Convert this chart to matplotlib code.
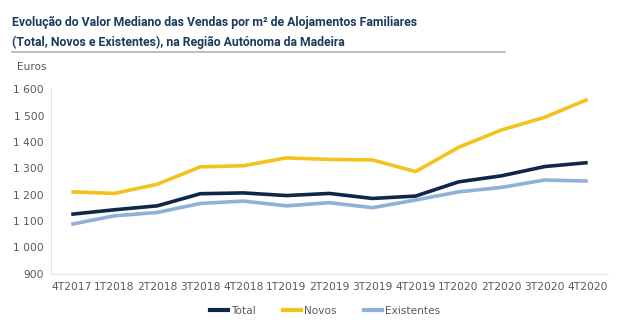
import matplotlib
matplotlib.use("Agg")
import matplotlib.pyplot as plt
from matplotlib.lines import Line2D

# -------- data
quarters = ['4T2017', '1T2018', '2T2018', '3T2018', '4T2018', '1T2019',
            '2T2019', '3T2019', '4T2019', '1T2020', '2T2020', '3T2020', '4T2020']
total = [1126, 1143, 1158, 1204, 1207, 1197, 1205, 1186, 1195, 1249, 1272, 1307, 1322]
novos = [1211, 1205, 1240, 1306, 1310, 1340, 1334, 1332, 1288, 1380, 1446, 1494, 1562]
existentes = [1088, 1120, 1133, 1167, 1176, 1158, 1170, 1151, 1180, 1211, 1228, 1256, 1252]
yticks = [900, 1000, 1100, 1200, 1300, 1400, 1500, 1600]

c_total = '#0f2748'
c_novos = '#f2c31c'
c_exist = '#8fb1d9'
c_text = '#595959'
c_title = '#1c3a5e'

# -------- make the figure
fig = plt.figure(figsize=(6.3, 3.26), dpi=100)
fig.patch.set_facecolor('white')

ax = fig.add_axes([0.081, 0.160, 0.884, 0.566])
x = range(len(quarters))
ax.plot(x, total, color=c_total, lw=2.6, solid_capstyle='butt')
ax.plot(x, novos, color=c_novos, lw=2.6, solid_capstyle='butt')
ax.plot(x, existentes, color=c_exist, lw=2.6, solid_capstyle='butt')

ax.set_xlim(-0.47, len(quarters) - 0.53)
ax.set_ylim(900, 1600)
ax.set_yticks(yticks)
ax.set_yticklabels([f'{v:,}'.replace(',', ' ') for v in yticks])
ax.set_xticks(list(x))
ax.set_xticklabels(quarters)
ax.tick_params(axis='both', length=0, labelsize=7.7, labelcolor=c_text, pad=6)
ax.tick_params(axis='y', pad=5)
for s in ['top', 'right']:
    ax.spines[s].set_visible(False)
for s in ['left', 'bottom']:
    ax.spines[s].set_color('#e6e6e6')
    ax.spines[s].set_linewidth(0.8)

fig.text(17 / 630, 1 - 67 / 326, 'Euros', fontsize=7.6, color=c_text, va='center', ha='left')

# -------- title
fig.text(12 / 630, 1 - 22 / 326,
         'Evolução do Valor Mediano das Vendas por m² de Alojamentos Familiares',
         fontsize=8.8, fontweight='bold', color=c_title, va='center', ha='left',
         family='Roboto')
fig.text(12 / 630, 1 - 42 / 326,
         '(Total, Novos e Existentes), na Região Autónoma da Madeira',
         fontsize=8.8, fontweight='bold', color=c_title, va='center', ha='left',
         family='Roboto')
fig.add_artist(Line2D([12 / 630, 505 / 630], [1 - 51.5 / 326, 1 - 51.5 / 326],
                      transform=fig.transFigure, color='#b3b3b3', lw=1.2))

# -------- legend
handles = [Line2D([], [], color=c_total, lw=3),
           Line2D([], [], color=c_novos, lw=3),
           Line2D([], [], color=c_exist, lw=3)]
fig.legend(handles, ['Total', 'Novos', 'Existentes'], loc='center',
           bbox_to_anchor=(325 / 630, 1 - 311 / 326), ncol=3, frameon=False,
           fontsize=7.6, labelcolor=c_text, handlelength=1.7, handletextpad=0.3,
           columnspacing=2.6)

fig.savefig('out.png', dpi=100, facecolor='white')
